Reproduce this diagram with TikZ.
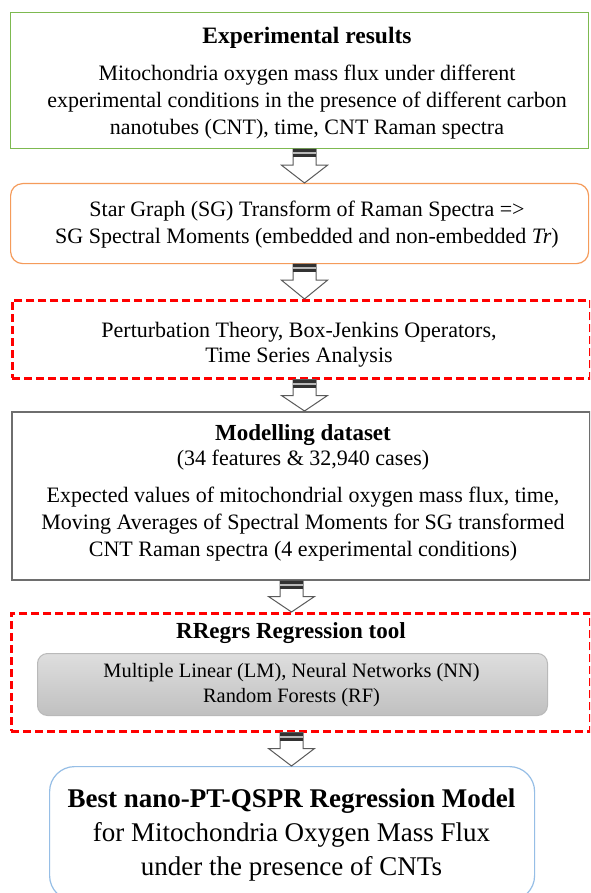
\documentclass[tikz,border=0pt]{standalone}
\usepackage{fontspec}
\setmainfont{Liberation Serif}
\usetikzlibrary{calc}
\definecolor{boxgreen}{RGB}{125,185,80}
\definecolor{boxorange}{RGB}{245,155,90}
\definecolor{boxgrey}{RGB}{110,110,110}
\definecolor{boxblue}{RGB}{150,190,230}
\definecolor{arrowgrey}{RGB}{90,90,90}
\definecolor{bardark}{RGB}{50,50,50}
\definecolor{innertop}{RGB}{222,222,222}
\definecolor{innerbot}{RGB}{192,192,192}
\definecolor{innerline}{RGB}{185,185,185}
\tikzset{
  frame/.style={rectangle, inner sep=0pt, anchor=north west},
  greenbox/.style={frame, draw=boxgreen, line width=1.2pt},
  orangebox/.style={frame, draw=boxorange, line width=1.2pt, rounded corners=12pt},
  redbox/.style={frame, draw=red, line width=2.5pt, dash pattern=on 8pt off 4pt},
  greybox/.style={frame, draw=boxgrey, line width=1.5pt},
  bluebox/.style={frame, draw=boxblue, line width=1.2pt, rounded corners=25pt},
  innerbox/.style={frame, draw=innerline, line width=1pt, rounded corners=10pt,
     top color=innertop, bottom color=innerbot},
  txt/.style={align=center, inner sep=0pt, font=\fontsize{22}{27}\selectfont},
  arrowbody/.style={fill=white, draw=arrowgrey, line width=1pt, line join=miter},
}
\newcommand\blockarrow[3]{%
  \filldraw[arrowbody] let \p1=(#2.south), \p2=(#3.north) in
    (#1pt-11.5pt,\y1) -- (#1pt-11.5pt,\y1-16pt) -- (#1pt-23pt,\y1-16pt) --
    (#1pt,\y2) -- (#1pt+23pt,\y1-16pt) -- (#1pt+11.5pt,\y1-16pt) --
    (#1pt+11.5pt,\y1) -- cycle;
  \fill[bardark] let \p1=(#2.south) in
    (#1pt-11.5pt,\y1) rectangle (#1pt+11.5pt,\y1-8pt);
  \fill[gray!55] let \p1=(#2.south) in
    (#1pt-11.5pt,\y1-3pt) rectangle (#1pt+11.5pt,\y1-5pt);
}
\begin{document}
\begin{tikzpicture}[x=1pt,y=-1pt]
\useasboundingbox (0,0) rectangle (590,893);
\fill[white] (0,0) rectangle (590,893);
\clip (0,0) rectangle (590,893);

% boxes
\node[greenbox, minimum width=578pt, minimum height=136pt] (b1) at (10,12) {};
\node[orangebox, minimum width=578pt, minimum height=80pt] (b2) at (10,183) {};
\node[redbox, minimum width=578pt, minimum height=78pt] (b3) at (11,299) {};
\node[greybox, minimum width=578pt, minimum height=168pt] (b4) at (11,411) {};
\node[redbox, minimum width=579pt, minimum height=118pt] (b5) at (10,612) {};
\node[innerbox, minimum width=510pt, minimum height=62pt] (b5in) at (37,653) {};
\node[bluebox, minimum width=485pt, minimum height=134pt] (b6) at (49,766) {};

% texts
\node[txt] (t1) at (307,83.5) {{\fontsize{23.5}{27}\selectfont\bfseries Experimental results}\\[10pt]
  Mitochondria oxygen mass flux under different\\
  experimental conditions in the presence of different carbon\\
  nanotubes (CNT), time, CNT Raman spectra};
\node[txt] (t2) at (307,224.5) {Star Graph (SG) Transform of Raman Spectra =>\\
  SG Spectral Moments (embedded and non-embedded \textit{Tr})};
\node[txt, font=\fontsize{22}{25.5}\selectfont] (t3) at (299,344.5) {Perturbation Theory, Box-Jenkins Operators,\\
  Time Series Analysis};
\node[txt] (t4) at (303,492.5) {{\fontsize{23}{27}\selectfont\bfseries Modelling dataset}\\[-2pt]
  (34 features \& 32,940 cases)\\[10pt]
  Expected values of mitochondrial oxygen mass flux, time,\\
  Moving Averages of Spectral Moments for SG transformed\\
  CNT Raman spectra (4 experimental conditions)};
\node[txt, font=\fontsize{23}{27}\selectfont\bfseries] (t5) at (291,633) {RRegrs Regression tool};
\node[txt, font=\fontsize{20.4}{25}\selectfont] (t5in) at (291.5,685.5) {Multiple Linear (LM), Neural Networks (NN)\\
  Random Forests (RF)};
\node[txt, font=\fontsize{27}{34}\selectfont] (t6) at (291.5,834.5) {{\bfseries Best nano-PT-QSPR Regression Model}\\
  for Mitochondria Oxygen Mass Flux\\
  under the presence of CNTs};

% block arrows
\blockarrow{304.5}{b1}{b2}
\blockarrow{304.5}{b2}{b3}
\blockarrow{304.5}{b3}{b4}
\blockarrow{291.5}{b4}{b5}
\blockarrow{291.5}{b5}{b6}
\end{tikzpicture}
\end{document}
